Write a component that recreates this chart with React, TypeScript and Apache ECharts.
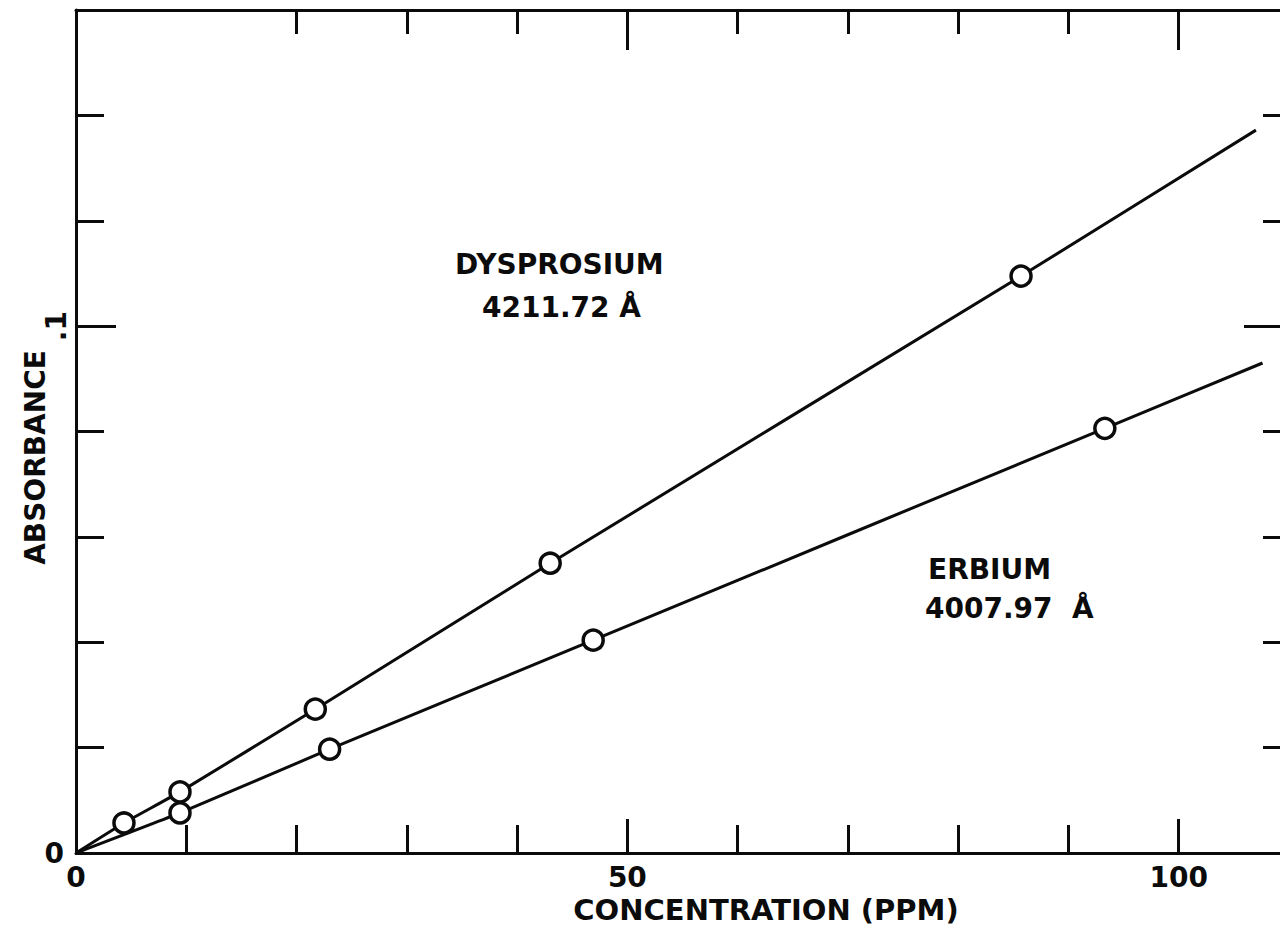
import React, { useEffect, useRef } from "react";
import * as echarts from "echarts";

const dysprosium: [number, number][] = [
  [0, 0],
  [4.35, 0.0057],
  [9.43, 0.0116],
  [21.7, 0.0273],
  [43.0, 0.055],
  [85.7, 0.1095],
  [107.0, 0.1372],
];
const erbium: [number, number][] = [
  [0, 0],
  [9.43, 0.0076],
  [23.0, 0.0197],
  [46.9, 0.0404],
  [93.3, 0.0806],
  [107.6, 0.093],
];
// measured points carry circles; first (origin) and last (curve end) do not
const xLabelValues = [0, 50, 100];
const xMajor = [50, 100];
const xTopMinor = [20, 30, 40, 60, 70, 80, 90];
const yMinor = [0.02, 0.04, 0.06, 0.08, 0.12, 0.14];
const yMajor = [0.1];

const FONT = "DejaVu Sans";
const BLACK = "#0b0b0b";

function toData(arr: [number, number][]) {
  return arr.map((p, i) =>
    i === 0 || i === arr.length - 1 ? { value: p, symbol: "none" } : { value: p }
  );
}

export default function App() {
  const ref = useRef<HTMLDivElement>(null);
  useEffect(() => {
    if (!ref.current) return;
    const chart = echarts.init(ref.current, null, { renderer: "svg" });
    const lineStyle = { color: BLACK, width: 3 };
    const labelStyle = {
      fontFamily: FONT,
      fontWeight: "bold" as const,
      fontSize: 28,
      color: BLACK,
    };
    const gridBox = { left: 76, top: 10, width: 1213, height: 843, outerBoundsMode: "none" };
    const baseX = { type: "value" as const, min: 0, max: 110, interval: 10, splitLine: { show: false } };
    const baseY = { type: "value" as const, min: 0, max: 0.16, interval: 0.02, splitLine: { show: false } };
    const shownLine = { show: true, onZero: false, lineStyle };
    const hiddenLine = { show: false, onZero: false };
    chart.setOption({
      animation: false,
      backgroundColor: "#ffffff",
      grid: [gridBox, { ...gridBox }],
      xAxis: [
        {
          ...baseX,
          gridIndex: 0,
          position: "bottom",
          axisLine: shownLine,
          axisTick: { show: true, inside: true, length: 28, lineStyle },
          axisLabel: {
            ...labelStyle,
            margin: 10,
            customValues: xLabelValues,
            formatter: (v: number) => String(v),
          },
          name: "CONCENTRATION (PPM)",
          nameLocation: "middle",
          nameGap: 42,
          nameMoveOverlap: false,
          nameTextStyle: { ...labelStyle, fontSize: 29, padding: [0, 0, 0, 167] },
        },
        {
          ...baseX,
          gridIndex: 0,
          position: "top",
          axisLine: shownLine,
          axisTick: { show: true, inside: true, length: 24, lineStyle, customValues: xTopMinor },
          axisLabel: { show: false },
        },
        {
          ...baseX,
          gridIndex: 1,
          position: "bottom",
          axisLine: hiddenLine,
          axisTick: { show: true, inside: true, length: 34, lineStyle, customValues: xMajor },
          axisLabel: { show: false },
        },
        {
          ...baseX,
          gridIndex: 1,
          position: "top",
          axisLine: hiddenLine,
          axisTick: { show: true, inside: true, length: 40, lineStyle, customValues: xMajor },
          axisLabel: { show: false },
        },
      ],
      yAxis: [
        {
          ...baseY,
          gridIndex: 0,
          position: "left",
          axisLine: shownLine,
          axisTick: { show: true, inside: true, length: 28, lineStyle, customValues: yMinor },
          axisLabel: {
            ...labelStyle,
            margin: 12,
            customValues: [0],
            formatter: () => "0",
          },
          name: "ABSORBANCE",
          nameLocation: "middle",
          nameGap: 27,
          nameMoveOverlap: false,
          nameTextStyle: { ...labelStyle, padding: [0, 52, 0, 0] },
        },
        {
          ...baseY,
          gridIndex: 0,
          position: "right",
          axisLine: shownLine,
          axisTick: { show: true, inside: true, length: 26, lineStyle, customValues: yMinor },
          axisLabel: { show: false },
        },
        {
          ...baseY,
          gridIndex: 1,
          position: "left",
          axisLine: hiddenLine,
          axisTick: { show: true, inside: true, length: 40, lineStyle, customValues: yMajor },
          axisLabel: {
            ...labelStyle,
            margin: 6,
            rotate: 90,
            customValues: yMajor,
            formatter: (v: number) => "." + String(Math.round(v * 10)),
          },
        },
        {
          ...baseY,
          gridIndex: 1,
          position: "right",
          axisLine: hiddenLine,
          axisTick: { show: true, inside: true, length: 45, lineStyle, customValues: yMajor },
          axisLabel: { show: false },
        },
      ],
      series: [
        {
          name: "DYSPROSIUM 4211.72 Å",
          type: "line",
          xAxisIndex: 0,
          yAxisIndex: 0,
          data: toData(dysprosium),
          smooth: 0.15,
          symbol: "circle",
          symbolSize: 20,
          showAllSymbol: true,
          lineStyle: { color: BLACK, width: 3 },
          itemStyle: { color: "#ffffff", borderColor: BLACK, borderWidth: 3.5 },
          z: 3,
        },
        {
          name: "ERBIUM 4007.97 Å",
          type: "line",
          xAxisIndex: 0,
          yAxisIndex: 0,
          data: toData(erbium),
          smooth: 0.15,
          symbol: "circle",
          symbolSize: 20,
          showAllSymbol: true,
          lineStyle: { color: BLACK, width: 3 },
          itemStyle: { color: "#ffffff", borderColor: BLACK, borderWidth: 3.5 },
          z: 3,
        },
      ],
      graphic: [
        { type: "text", x: 455, y: 264, style: { text: "DYSPROSIUM", ...labelStyle, fill: BLACK, textVerticalAlign: "middle" } },
        { type: "text", x: 482, y: 307, style: { text: "4211.72 Å", ...labelStyle, fill: BLACK, textVerticalAlign: "middle" } },
        { type: "text", x: 928, y: 569, style: { text: "ERBIUM", ...labelStyle, fill: BLACK, textVerticalAlign: "middle" } },
        { type: "text", x: 925, y: 608, style: { text: "4007.97  Å", ...labelStyle, fill: BLACK, textVerticalAlign: "middle" } },
      ],
    });
    return () => chart.dispose();
  }, []);
  return (
    <div
      ref={ref}
      style={{ position: "absolute", left: 0, top: 0, width: 1280, height: 928, background: "#fff" }}
    />
  );
}
